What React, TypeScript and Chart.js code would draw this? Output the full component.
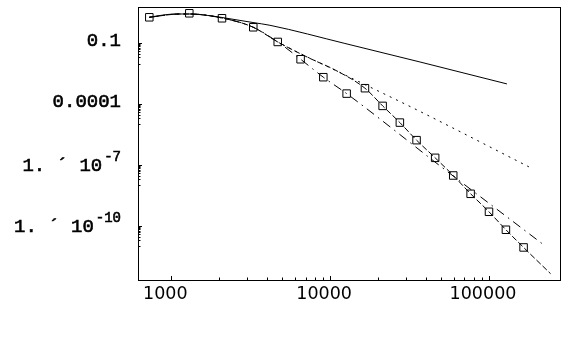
import React, { useEffect, useRef } from "react";
import { Chart, registerables } from "chart.js";

Chart.register(...registerables);

// Axis ticks and labels
const xMajorTicks = [1000, 10000, 100000];
const xTickLabels = ["1000", "10000", "100000"];
const yMajorTicks = [0.1, 1e-4, 1e-7, 1e-10];
const yTickLabels = ["0.1", "0.0001", "1. \u00b4 10^-7", "1. \u00b4 10^-10"];
const xMin = 617;
const xMax = 279900;
const yMin = 2.2e-13;
const yMax = 6.1;

// Solid curve
const solidX = [724, 849, 981, 1135, 1313, 1700, 2085, 3266, 4178, 12390, 36740, 129700];
const solidY = [1.9, 2.33, 2.67, 2.76, 2.76, 2.33, 1.86, 1.05, 0.767, 0.0977, 0.012, 9.95e-4];

// Dotted curve
const dottedX = [727, 1135, 1313, 2085, 3281, 4677, 12390, 35160, 178200];
const dottedY = [1.9, 2.76, 2.76, 1.75, 0.612, 0.116, 2.76e-3, 5.24e-5, 8.22e-8];

// Dash-dot curve
const dashDotX = [727, 1135, 1313, 2085, 3281, 4677, 6516, 9057, 12700, 49090, 224900];
const dashDotY = [1.9, 2.76, 2.76, 1.75, 0.612, 0.116, 0.0163, 2.13e-3, 3.32e-4, 9.22e-8, 1.07e-11];

// Dashed curve
const dashedX = [727, 1135, 1313, 2085, 3281, 4677, 7464, 10720, 16560, 21400, 27470, 34990, 45820, 59540, 76620, 100000, 127800, 165100, 244200];
const dashedY = [1.9, 2.76, 2.76, 1.75, 0.612, 0.116, 0.0179, 4.86e-3, 6.12e-4, 8.24e-5, 1.24e-5, 1.69e-6, 2.28e-7, 3.08e-8, 3.86e-9, 5.03e-10, 6.56e-11, 8.83e-12, 4.49e-13];

// Square markers
const squareX = [727, 1298, 2085, 3281, 4677, 6516, 9057, 12700, 16560, 21400, 27470, 34990, 45820, 59540, 76620, 100000, 127800, 165100];
const squareY = [1.9, 2.99, 1.7, 0.612, 0.116, 0.0163, 2.13e-3, 3.32e-4, 6.12e-4, 8.24e-5, 1.24e-5, 1.69e-6, 2.28e-7, 3.08e-8, 3.86e-9, 5.03e-10, 6.56e-11, 8.83e-12];

const pts = (xs: number[], ys: number[]) => xs.map((x, i) => ({ x, y: ys[i] }));

const drawText = (ctx: any, text: string, x: number, y: number) => {
  ctx.fillText(text, x, y);
  ctx.strokeText(text, x, y);
};

const framePlugin = {
  id: "mathFrame",
  afterDraw(chart: any) {
    const { ctx, chartArea, scales } = chart;
    const { left, top, right, bottom } = chartArea;
    const xs = scales.x;
    const ys = scales.y;
    ctx.save();
    ctx.strokeStyle = "#000";
    ctx.lineWidth = 1;
    ctx.strokeRect(left + 0.5, top + 0.5, right - left, bottom - top);
    // x ticks (inward, bottom)
    ctx.beginPath();
    for (let i = 0; i < xMajorTicks.length; i++) {
      const d = xMajorTicks[i];
      const px = Math.round(xs.getPixelForValue(d)) + 0.5;
      ctx.moveTo(px, bottom);
      ctx.lineTo(px, bottom - 4);
      if (i < xMajorTicks.length - 1) {
        for (let m = 2; m <= 9; m++) {
          const mx = Math.round(xs.getPixelForValue(d * m)) + 0.5;
          ctx.moveTo(mx, bottom);
          ctx.lineTo(mx, bottom - 2.5);
        }
      }
    }
    // y ticks (inward, left)
    for (const v of yMajorTicks) {
      const py = Math.round(ys.getPixelForValue(v)) + 0.5;
      ctx.moveTo(left, py);
      ctx.lineTo(left + 4, py);
      for (let m = 1; m <= 9; m++) {
        const my = Math.round(ys.getPixelForValue((v * m) / 10)) + 0.5;
        ctx.moveTo(left, my);
        ctx.lineTo(left + 2.5, my);
      }
    }
    ctx.stroke();
    // y labels
    ctx.fillStyle = "#000";
    ctx.lineWidth = 0.6;
    ctx.textAlign = "right";
    ctx.textBaseline = "alphabetic";
    const rx = left - 17;
    yMajorTicks.forEach((v, i) => {
      const py = ys.getPixelForValue(v);
      const [base, sup] = yTickLabels[i].split("^");
      if (sup) {
        ctx.font = "14px 'Liberation Mono'";
        drawText(ctx, sup, rx, py - 4);
        const w = ctx.measureText(sup).width;
        ctx.font = "19px 'Liberation Mono'";
        drawText(ctx, base, rx - w - 2, py + 6);
      } else {
        ctx.font = "19px 'Liberation Mono'";
        drawText(ctx, base, rx, py + 3);
      }
    });
    ctx.restore();
  },
};

export default function App() {
  const ref = useRef<HTMLCanvasElement>(null);
  useEffect(() => {
    document.body.style.margin = "0";
    const lineDs = (xs: number[], ys: number[], dash: number[]) => ({
      data: pts(xs, ys),
      showLine: true,
      borderColor: "#000",
      backgroundColor: "#000",
      borderWidth: 1,
      borderDash: dash,
      pointRadius: 0,
      pointHoverRadius: 0,
      cubicInterpolationMode: "monotone",
    });
    const chart = new Chart(ref.current as HTMLCanvasElement, {
      type: "scatter",
      data: {
        datasets: [
          lineDs(solidX, solidY, []),
          lineDs(dottedX, dottedY, [2, 5]),
          lineDs(dashDotX, dashDotY, [9, 5, 1.5, 5]),
          lineDs(dashedX, dashedY, [6, 2.5]),
          {
            data: pts(squareX, squareY),
            showLine: false,
            pointStyle: "rect",
            pointRadius: 5.3,
            pointHoverRadius: 5.3,
            borderColor: "#000",
            backgroundColor: "rgba(0,0,0,0)",
            pointBorderWidth: 1,
          },
        ] as any,
      },
      options: {
        animation: false,
        responsive: true,
        maintainAspectRatio: false,
        layout: { padding: { left: 0, top: 7, right: 16, bottom: 0 } },
        plugins: { legend: { display: false }, tooltip: { enabled: false } },
        events: [],
        scales: {
          x: {
            type: "logarithmic",
            min: xMin,
            max: xMax,
            grid: { display: false, drawTicks: false },
            border: { display: false },
            afterBuildTicks: (scale: any) => {
              scale.ticks = xMajorTicks.map((value) => ({ value }));
            },
            afterFit: (scale: any) => {
              scale.height = 76;
            },
            ticks: {
              autoSkip: false,
              maxRotation: 0,
              padding: 4,
              labelOffset: -6,
              color: "#000",
              font: { family: "'DejaVu Sans'", size: 17.5 },
              callback: (_v: any, i: number) => xTickLabels[i],
            },
          },
          y: {
            type: "logarithmic",
            min: yMin,
            max: yMax,
            grid: { display: false, drawTicks: false },
            border: { display: false },
            ticks: { display: false },
            afterFit: (scale: any) => {
              scale.width = 138;
            },
          },
        },
      } as any,
      plugins: [framePlugin],
    });
    return () => chart.destroy();
  }, []);
  return (
    <div style={{ width: 576, height: 356, position: "relative", background: "#fff" }}>
      <canvas ref={ref} />
    </div>
  );
}
